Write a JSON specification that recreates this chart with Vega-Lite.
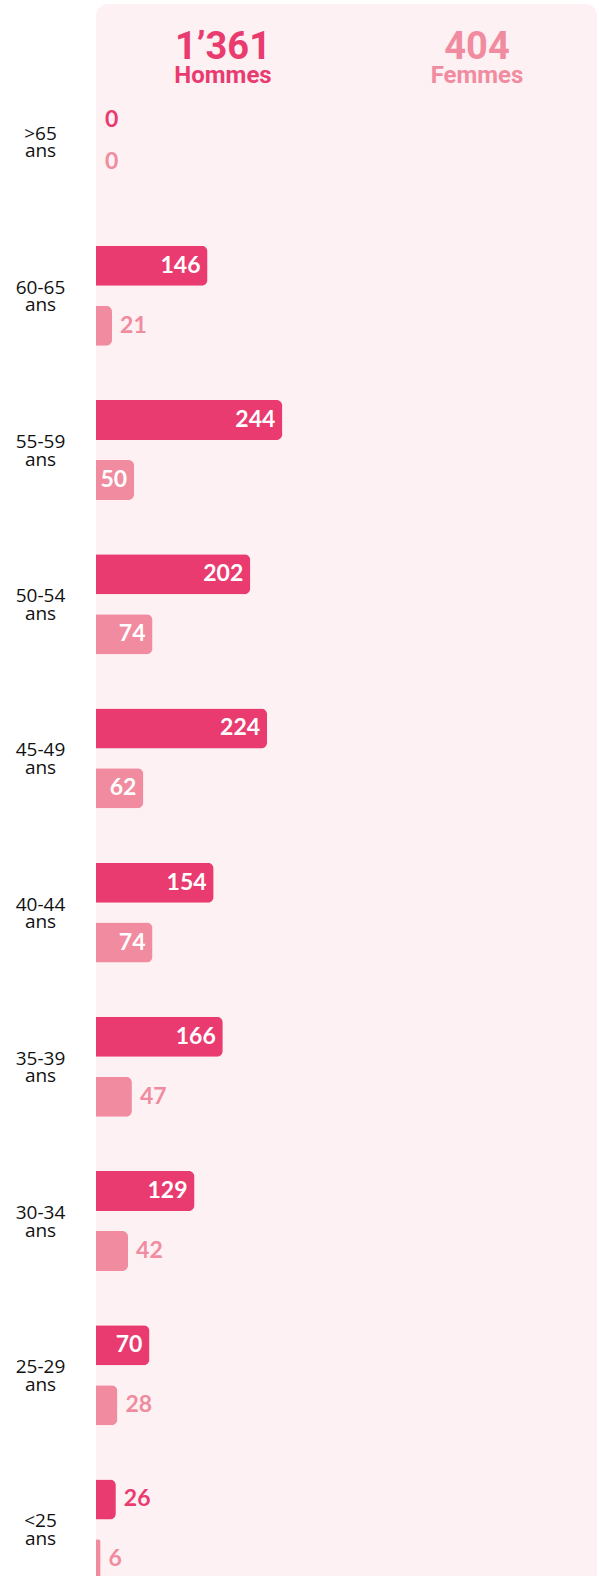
{
  "$schema": "https://vega.github.io/schema/vega-lite/v6.json",
  "width": 501,
  "height": 1590,
  "autosize": {"type": "none"},
  "padding": {"left": 96, "top": 4, "right": 2, "bottom": 0},
  "config": {"view": {"fill": "#FEF1F3", "stroke": null, "cornerRadius": 12}, "font": "Lato"},
  "data": {"values": [
    {"age": ">65", "sex": "Hommes", "n": 0},
    {"age": ">65", "sex": "Femmes", "n": 0},
    {"age": "60-65", "sex": "Hommes", "n": 146},
    {"age": "60-65", "sex": "Femmes", "n": 21},
    {"age": "55-59", "sex": "Hommes", "n": 244},
    {"age": "55-59", "sex": "Femmes", "n": 50},
    {"age": "50-54", "sex": "Hommes", "n": 202},
    {"age": "50-54", "sex": "Femmes", "n": 74},
    {"age": "45-49", "sex": "Hommes", "n": 224},
    {"age": "45-49", "sex": "Femmes", "n": 62},
    {"age": "40-44", "sex": "Hommes", "n": 154},
    {"age": "40-44", "sex": "Femmes", "n": 74},
    {"age": "35-39", "sex": "Hommes", "n": 166},
    {"age": "35-39", "sex": "Femmes", "n": 47},
    {"age": "30-34", "sex": "Hommes", "n": 129},
    {"age": "30-34", "sex": "Femmes", "n": 42},
    {"age": "25-29", "sex": "Hommes", "n": 70},
    {"age": "25-29", "sex": "Femmes", "n": 28},
    {"age": "<25", "sex": "Hommes", "n": 26},
    {"age": "<25", "sex": "Femmes", "n": 6}
  ]},
  "layer": [
    {
      "encoding": {
        "y": {
          "field": "age", "type": "nominal",
          "scale": {"domain": [">65", "60-65", "55-59", "50-54", "45-49", "40-44", "35-39", "30-34", "25-29", "<25"], "range": [60.5, 1602.5], "paddingInner": 0, "paddingOuter": 0},
          "axis": {"title": null, "ticks": false, "domain": false, "grid": false, "labelExpr": "[datum.label, 'ans']", "labelFont": "Open Sans", "labelFontSize": 19, "labelLineHeight": 17.5, "labelColor": "#111111", "labelAlign": "center", "labelBaseline": "middle", "labelPadding": 56, "labelOffset": -8}
        },
        "yOffset": {"field": "sex", "type": "nominal", "scale": {"domain": ["Hommes", "Femmes"], "paddingInner": 0.332, "paddingOuter": 0.453}},
        "x": {"field": "n", "type": "quantitative", "scale": {"domain": [0, 656], "nice": false, "zero": true}, "axis": null}
      },
      "layer": [
        {
          "mark": {"type": "bar", "cornerRadiusEnd": 6},
          "encoding": {"color": {"field": "sex", "type": "nominal", "scale": {"domain": ["Hommes", "Femmes"], "range": ["#E93B6F", "#F08BA0"]}, "legend": null}}
        },
        {
          "transform": [{"filter": "datum.n >= 50"}],
          "mark": {"type": "text", "align": "right", "dx": -7, "baseline": "middle", "font": "Lato", "fontWeight": "bold", "fontSize": 23, "color": "white"},
          "encoding": {"text": {"field": "n", "type": "quantitative"}}
        },
        {
          "transform": [{"filter": "datum.n > 0 && datum.n < 50"}],
          "mark": {"type": "text", "align": "left", "dx": 8, "baseline": "middle", "font": "Lato", "fontWeight": "bold", "fontSize": 23},
          "encoding": {"text": {"field": "n", "type": "quantitative"}, "color": {"field": "sex", "type": "nominal", "legend": null}}
        },
        {
          "transform": [{"filter": "datum.n == 0 && datum.sex == 'Hommes'"}],
          "mark": {"type": "text", "align": "left", "dx": 9, "dy": 8, "baseline": "middle", "font": "Lato", "fontWeight": "bold", "fontSize": 23},
          "encoding": {"text": {"field": "n", "type": "quantitative"}, "color": {"field": "sex", "type": "nominal", "legend": null}}
        },
        {
          "transform": [{"filter": "datum.n == 0 && datum.sex == 'Femmes'"}],
          "mark": {"type": "text", "align": "left", "dx": 9, "dy": -10, "baseline": "middle", "font": "Lato", "fontWeight": "bold", "fontSize": 23},
          "encoding": {"text": {"field": "n", "type": "quantitative"}, "color": {"field": "sex", "type": "nominal", "legend": null}}
        }
      ]
    },
    {
      "transform": [
        {"aggregate": [{"op": "sum", "field": "n", "as": "total"}], "groupby": ["sex"]},
        {"calculate": "replace(format(datum.total, ','), ',', '’')", "as": "totalLabel"}
      ],
      "encoding": {
        "x": {"field": "sex", "type": "nominal", "scale": {"domain": ["Hommes", "Femmes"], "range": [0, 508], "paddingInner": 0, "paddingOuter": 0}, "axis": null},
        "color": {"field": "sex", "type": "nominal", "legend": null}
      },
      "layer": [
        {
          "mark": {"type": "text", "font": "Roboto", "fontWeight": "bold", "fontSize": 38, "baseline": "alphabetic", "align": "center"},
          "encoding": {
            "y": {"datum": "total", "type": "nominal", "scale": {"type": "point", "domain": ["total", "label"], "range": [55, 79], "padding": 0}, "axis": null},
            "text": {"field": "totalLabel", "type": "nominal"}
          }
        },
        {
          "mark": {"type": "text", "font": "Roboto", "fontWeight": "bold", "fontSize": 24, "baseline": "alphabetic", "align": "center"},
          "encoding": {
            "y": {"datum": "label", "type": "nominal", "scale": {"type": "point", "domain": ["total", "label"], "range": [55, 79], "padding": 0}, "axis": null},
            "text": {"field": "sex", "type": "nominal"}
          }
        }
      ]
    }
  ],
  "resolve": {"scale": {"x": "independent", "y": "independent"}}
}
